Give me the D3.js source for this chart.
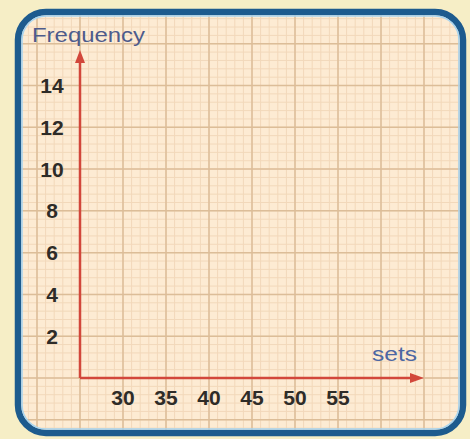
<!DOCTYPE html>
<html><head><meta charset="utf-8">
<script src="https://cdn.jsdelivr.net/npm/d3@7"></script>
<style>html,body{margin:0;padding:0;background:#f6eec6;}svg{display:block;}</style>
</head><body>
<script>
const yTicks = [2, 4, 6, 8, 10, 12, 14];
const xTicks = [30, 35, 40, 45, 50, 55];
const xTitle = "sets";
const yTitle = "Frequency";

const W = 470, H = 439;
const svg = d3.select("body").append("svg").attr("width", W).attr("height", H);

const x = d3.scaleLinear().domain([25, 65]).range([80, 424]);
const y = d3.scaleLinear().domain([0, 15.7]).range([378, 50]);

svg.append("rect").attr("width", W).attr("height", H).attr("fill", "#f6eec6");
svg.append("defs").append("clipPath").attr("id", "c")
  .append("rect").attr("x", 18).attr("y", 12).attr("width", 445).attr("height", 421).attr("rx", 28);
svg.append("rect").attr("x", 18).attr("y", 12).attr("width", 445).attr("height", 421).attr("rx", 28)
  .attr("fill", "#fdebd3");

const g = svg.append("g").attr("clip-path", "url(#c)");
const xMinor = d3.range(15, 71, 1);
const yMinor = d3.range(-4, 19, 0.4);
g.selectAll(".vm").data(xMinor).join("line")
  .attr("x1", d => x(d)).attr("x2", d => x(d)).attr("y1", 0).attr("y2", H)
  .attr("stroke", "#f2d8ba").attr("stroke-width", 1);
g.selectAll(".hm").data(yMinor).join("line")
  .attr("y1", d => y(d)).attr("y2", d => y(d)).attr("x1", 0).attr("x2", W)
  .attr("stroke", "#f2d8ba").attr("stroke-width", 1);
const xMajor = d3.range(15, 71, 5);
const yMajor = d3.range(-4, 19, 2);
g.selectAll(".vM").data(xMajor).join("line")
  .attr("x1", d => x(d)).attr("x2", d => x(d)).attr("y1", 0).attr("y2", H)
  .attr("stroke", "#dcbd98").attr("stroke-width", 1.5);
g.selectAll(".hM").data(yMajor).join("line")
  .attr("y1", d => y(d)).attr("y2", d => y(d)).attr("x1", 0).attr("x2", W)
  .attr("stroke", "#dcbd98").attr("stroke-width", 1.5);

svg.append("rect").attr("x", 18).attr("y", 12).attr("width", 445).attr("height", 421).attr("rx", 28)
  .attr("fill", "none").attr("stroke", "#1d5b8e").attr("stroke-width", 6.5);
svg.append("rect").attr("x", 22).attr("y", 16).attr("width", 437).attr("height", 413).attr("rx", 24)
  .attr("fill", "none").attr("stroke", "#a6d4f0").attr("stroke-width", 1.5);

const red = "#d2473b";
svg.append("line").attr("x1", x(25)).attr("x2", x(25)).attr("y1", y(0)).attr("y2", y(15.2))
  .attr("stroke", red).attr("stroke-width", 2.5);
svg.append("line").attr("x1", x(25)).attr("x2", x(64.2)).attr("y1", y(0)).attr("y2", y(0))
  .attr("stroke", red).attr("stroke-width", 2.5);
svg.append("path").attr("d", `M${x(25)},${y(15.7)} L${x(25)-5},${y(15.7)+13} L${x(25)+5},${y(15.7)+13}Z`).attr("fill", red);
svg.append("path").attr("d", `M${x(65)},${y(0)} L${x(65)-14},${y(0)-5} L${x(65)-14},${y(0)+5}Z`).attr("fill", red);

const font = "Liberation Sans, Arial, sans-serif";
svg.selectAll(".yt").data(yTicks).join("text")
  .attr("x", 52).attr("y", d => y(d)).attr("dy", "0.36em").attr("text-anchor", "middle")
  .attr("font-family", font).attr("font-weight", "bold")
  .attr("font-size", 21).attr("fill", "#2e2c28").text(d => d);
svg.selectAll(".xt").data(xTicks).join("text")
  .attr("x", d => x(d)).attr("y", 397).attr("dy", "0.36em").attr("text-anchor", "middle")
  .attr("font-family", font).attr("font-weight", "bold")
  .attr("font-size", 21).attr("fill", "#2e2c28").text(d => d);

svg.append("text").attr("x", 32).attr("y", 42).attr("font-family", font)
  .attr("font-size", 21).attr("textLength", 113).attr("lengthAdjust", "spacingAndGlyphs")
  .attr("fill", "#4d5b8c").text(yTitle);
svg.append("text").attr("x", 372).attr("y", 361).attr("font-family", font)
  .attr("font-size", 21).attr("textLength", 45).attr("lengthAdjust", "spacingAndGlyphs")
  .attr("fill", "#4c67a3").text(xTitle);
</script>
</body></html>
